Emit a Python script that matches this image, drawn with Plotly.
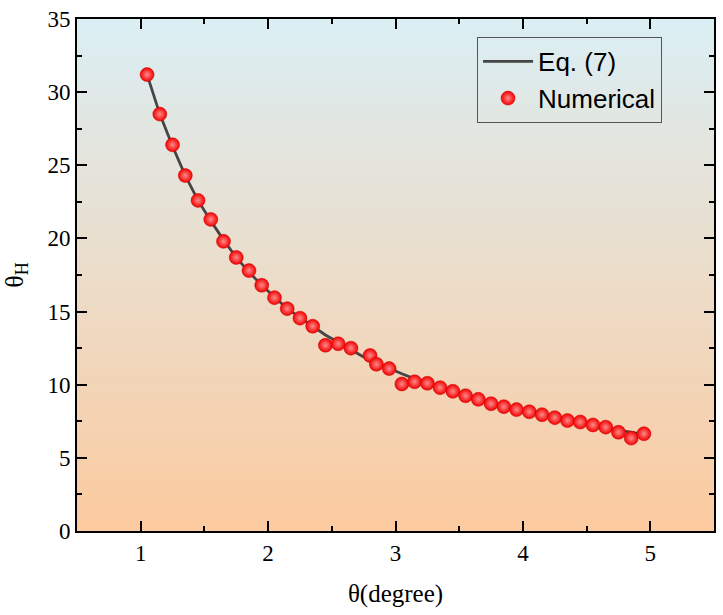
import plotly.graph_objects as go

# ---- data ----
theta_num = [1.05, 1.15, 1.25, 1.35, 1.45, 1.55, 1.65, 1.75, 1.85, 1.95,
             2.05, 2.15, 2.25, 2.35, 2.45, 2.55, 2.65, 2.80, 2.85, 2.95,
             3.05, 3.15, 3.25, 3.35, 3.45, 3.55, 3.65, 3.75, 3.85, 3.95,
             4.05, 4.15, 4.25, 4.35, 4.45, 4.55, 4.65, 4.75, 4.85, 4.95]
thetaH_num = [31.2, 28.5, 26.4, 24.3, 22.6, 21.3, 19.8, 18.7, 17.8, 16.8,
              15.95, 15.2, 14.55, 14.0, 12.7, 12.8, 12.5, 12.0, 11.4, 11.1,
              10.05, 10.2, 10.1, 9.8, 9.55, 9.25, 9.0, 8.7, 8.5, 8.3,
              8.15, 7.95, 7.75, 7.55, 7.45, 7.25, 7.1, 6.75, 6.35, 6.65]

theta_eq = [1.05, 1.15, 1.25, 1.35, 1.45, 1.55, 1.65, 1.75, 1.85, 1.95,
            2.05, 2.15, 2.25, 2.35, 2.45, 2.55, 2.65, 2.75, 2.85, 2.95,
            3.05, 3.15, 3.25, 3.35, 3.45, 3.55, 3.65, 3.75, 3.85, 3.95,
            4.05, 4.15, 4.25, 4.35, 4.45, 4.55, 4.65, 4.75, 4.85, 4.95]
thetaH_eq = [31.2, 28.5, 26.3, 24.3, 22.6, 21.2, 19.9, 18.7, 17.7, 16.8,
             16.0, 15.2, 14.6, 14.0, 13.4, 12.9, 12.4, 11.9, 11.5, 11.1,
             10.75, 10.4, 10.1, 9.8, 9.5, 9.25, 9.0, 8.75, 8.5, 8.3,
             8.1, 7.9, 7.7, 7.55, 7.4, 7.2, 7.05, 6.9, 6.75, 6.6]

x_ticks = [1, 2, 3, 4, 5]
y_ticks = [0, 5, 10, 15, 20, 25, 30, 35]

SERIF = "Times New Roman, Liberation Serif, serif"
SANS = "Liberation Sans"

fig = go.Figure()

fig.add_trace(go.Scatter(
    x=theta_eq, y=thetaH_eq, mode="lines", name="Eq. (7)",
    line=dict(color="#454545", width=2.8),
))
fig.add_trace(go.Scatter(
    x=theta_num, y=thetaH_num, mode="markers", name="Numerical",
    marker=dict(size=14, color="#f20000",
                gradient=dict(type="radial", color="#ff8a8a"),
                line=dict(width=0.5, color="#d00000")),
))

# vertical gradient background
top = (219, 238, 243)
bot = (252, 203, 160)
n = 80
for i in range(n):
    t = i / (n - 1)
    c = tuple(int(round(bot[k] + (top[k] - bot[k]) * t)) for k in range(3))
    fig.add_shape(type="rect", xref="x domain", yref="y domain",
                  x0=0, x1=1, y0=i / n, y1=(i + 1) / n + 0.002,
                  fillcolor="rgb(%d,%d,%d)" % c, line=dict(width=0),
                  layer="below")

fig.update_layout(
    width=723, height=615,
    margin=dict(l=77, r=7, t=15, b=84),
    paper_bgcolor="white", plot_bgcolor="white",
    font=dict(family=SERIF, size=23, color="black"),
    showlegend=True,
    legend=dict(x=0.628, y=0.965, xanchor="left", yanchor="top",
                bgcolor="rgba(0,0,0,0)", bordercolor="#555555", borderwidth=1,
                font=dict(family=SANS, size=26, color="black"),
                itemwidth=50, tracegroupgap=0),
)

tf = dict(family=SERIF, size=23, color="black")
fig.update_xaxes(range=[0.5, 5.5], tickvals=x_ticks, tickfont=tf,
                 showline=True, linecolor="black", linewidth=2, mirror="allticks",
                 ticks="inside", ticklen=10, tickwidth=2, tickcolor="black",
                 showgrid=False, zeroline=False,
                 minor=dict(dtick=0.5, ticks="inside", ticklen=5, tickwidth=2,
                            tickcolor="black"),
                 title=dict(text="θ(degree)", standoff=20,
                            font=dict(family=SERIF, size=25, color="black")))
fig.update_yaxes(range=[0, 35], tickvals=y_ticks, tickfont=tf,
                 showline=True, linecolor="black", linewidth=2, mirror="allticks",
                 ticks="inside", ticklen=10, tickwidth=2, tickcolor="black",
                 showgrid=False, zeroline=False,
                 minor=dict(dtick=2.5, ticks="inside", ticklen=5, tickwidth=2,
                            tickcolor="black"),
                 title=dict(text="θ<sub>H</sub>", standoff=18,
                            font=dict(family=SERIF, size=26, color="black")))

fig.write_html("out.html")
